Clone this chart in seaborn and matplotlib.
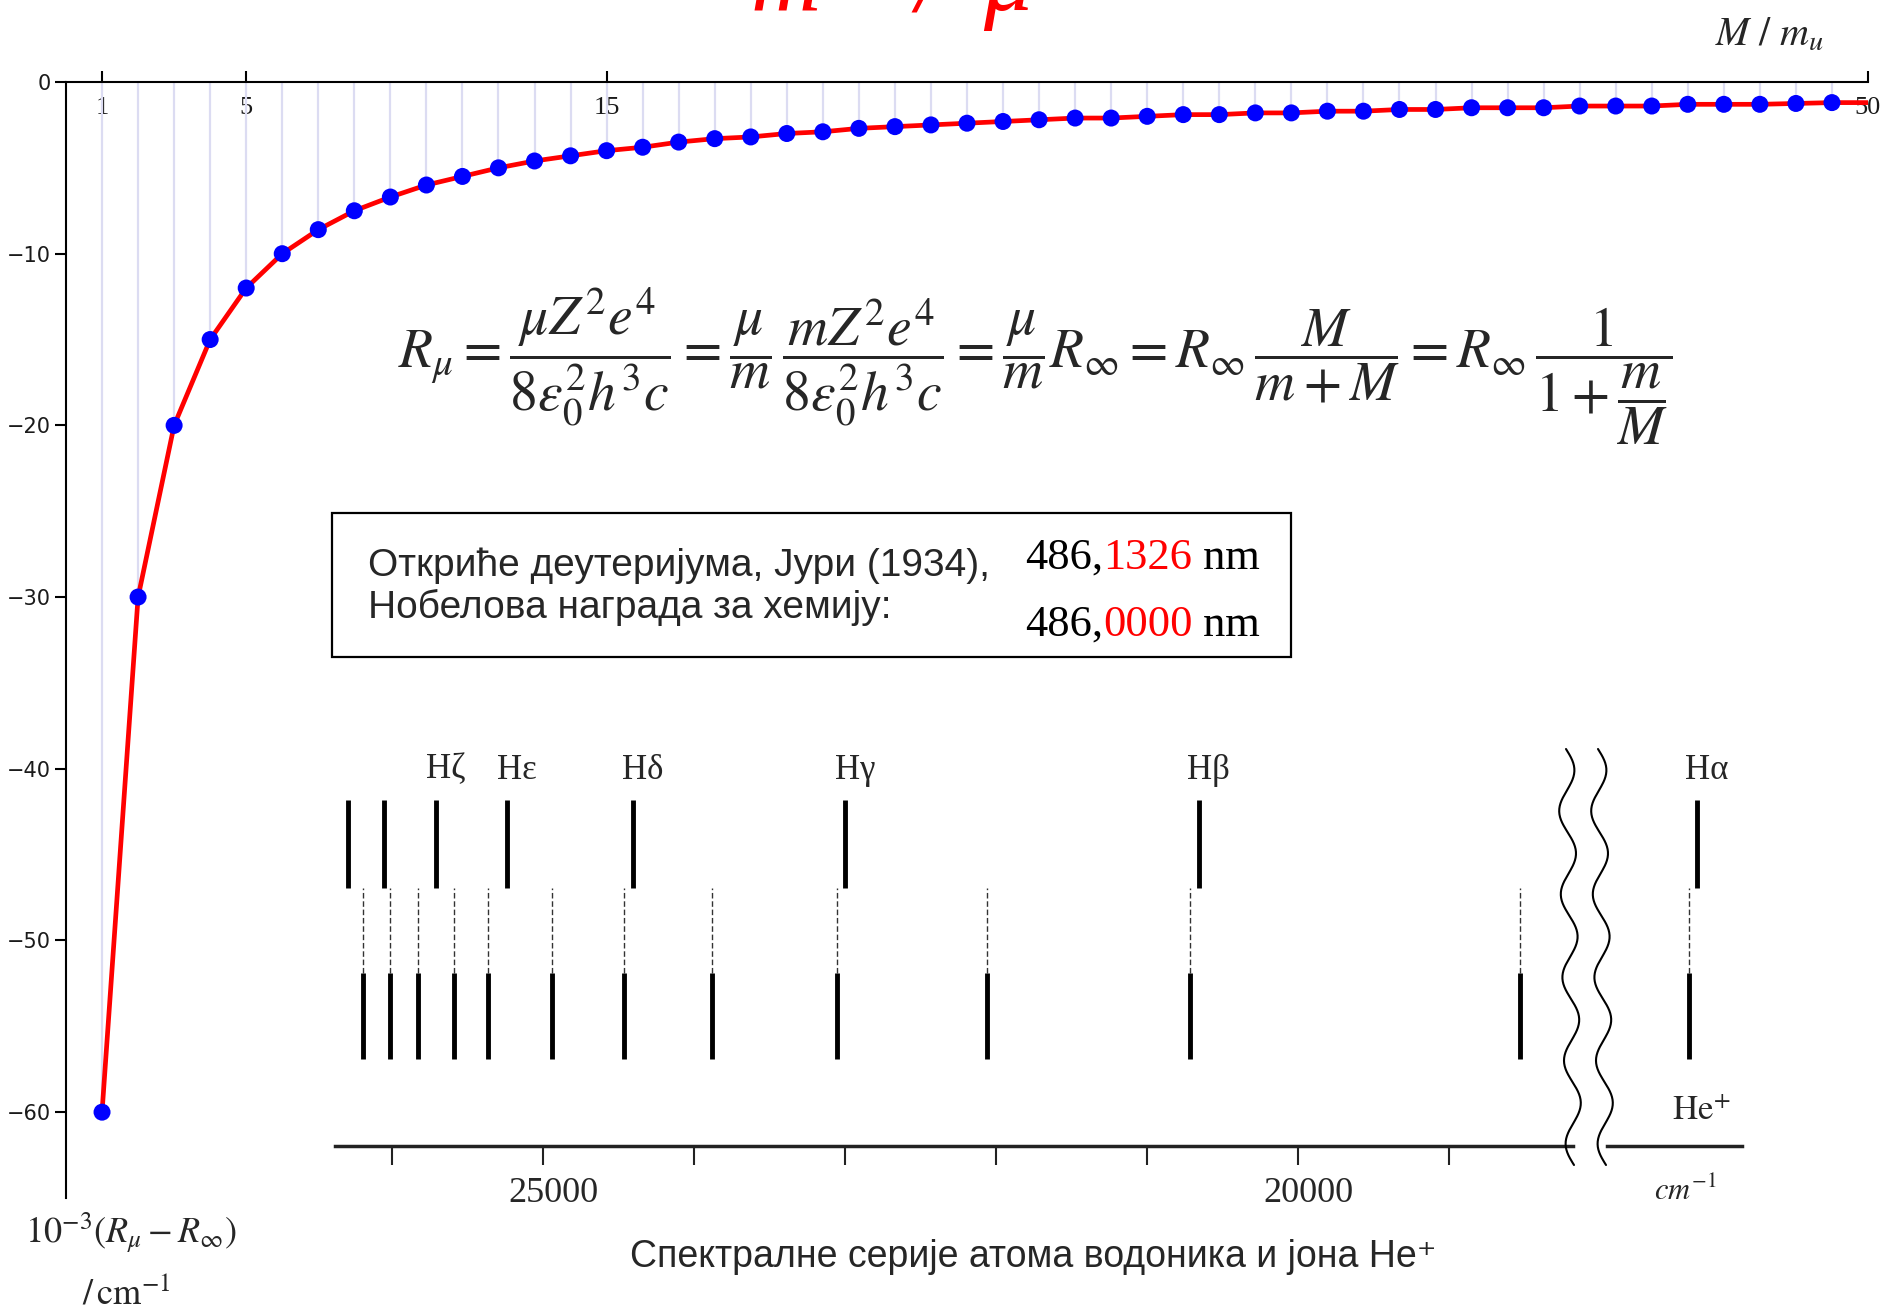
import numpy as np
import matplotlib
matplotlib.use('Agg')
import matplotlib.pyplot as plt
import matplotlib.transforms as mtransforms
from matplotlib.patches import Rectangle
from matplotlib.lines import Line2D
from matplotlib.text import Annotation
import seaborn as sns

# values
mass_ratio = np.arange(1, 50)   # M / m_u, points
shift = [-60.0, -30.0, -20.0, -15.0, -12.0, -10.0, -8.6, -7.5, -6.7, -6.0,
         -5.5, -5.0, -4.6, -4.3, -4.0, -3.8, -3.5, -3.3, -3.2, -3.0,
         -2.9, -2.7, -2.6, -2.5, -2.4, -2.3, -2.2, -2.1, -2.1, -2.0,
         -1.9, -1.9, -1.8, -1.8, -1.7, -1.7, -1.6, -1.6, -1.5, -1.5,
         -1.5, -1.4, -1.4, -1.4, -1.3, -1.3, -1.3, -1.25, -1.2]
# red curve runs on to the end of the axis
curve_mass = list(mass_ratio) + [50]
curve_shift = shift + [-1.2]

# spectrum (cm^-1)
h_lines = [26291, 26053, 25709, 25238, 24404, 23000, 20656]
h_names = ['', '', 'Hζ', 'Hε', 'Hδ', 'Hγ', 'Hβ']
he_lines = [26192, 26013, 25828, 25589, 25364, 24940, 24464, 23881, 23053,
            22060, 20715, 18530]
h_alpha = [15233]
he_alpha = [15286]
wn_ticks = [26000, 25000, 24000, 23000, 22000, 21000, 20000, 19000]
wn_labels = ['', '25000', '', '', '', '', '20000', '']

sns.set_theme(style='white')
plt.rcParams['font.family'] = ['DejaVu Sans']
plt.rcParams['mathtext.fontset'] = 'stix'

W, H = 1887, 1311
fig = plt.figure(figsize=(W / 100, H / 100), dpi=100)
fig.patch.set_facecolor('white')


def fx(px):
    return px / W


def fy(py):
    return 1 - py / H


# main plot
ax = fig.add_axes([fx(66), fy(1198), fx(1868) - fx(66), fy(82) - fy(1198)])
ax.vlines(mass_ratio, shift, 0, color='#dcdcf2', lw=1.6, zorder=1)
sns.lineplot(x=curve_mass, y=curve_shift, color='red', lw=3.4, ax=ax, zorder=2)
sns.scatterplot(x=mass_ratio, y=shift, color='blue', s=150, edgecolor='none',
                ax=ax, zorder=3, clip_on=False)
ax.set_xlim(0, 50)
ax.set_ylim(-65, 0)
ax.set_xlabel('')
ax.set_ylabel('')
for side in ['right', 'bottom']:
    ax.spines[side].set_visible(False)
for side in ['left', 'top']:
    ax.spines[side].set_color('black')
    ax.spines[side].set_linewidth(1.5)

ax.xaxis.tick_top()
ax.set_xticks([1, 5, 15, 50])
ax.tick_params(axis='x', top=True, bottom=False, labeltop=True, labelbottom=False,
               direction='out', length=8, width=1.5, color='black',
               pad=-35, labelsize=19, labelcolor='#1a1a1a')
for lab in ax.get_xticklabels():
    lab.set_fontfamily('Liberation Serif')
ax.set_yticks(range(-60, 1, 10))
ax.tick_params(axis='y', left=True, direction='out', length=8, width=1.5,
               color='black', labelsize=15, labelcolor='#1a1a1a', pad=3)

# red heading (cut at top, as in the slide)
fig.text(fx(750), fy(10), 'm', fontsize=70, style='italic', color='red',
         family='Liberation Serif', va='baseline', ha='left')
fig.text(fx(915), fy(10), '/', fontsize=70, style='italic', color='red',
         family='Liberation Serif', va='baseline', ha='left')
fig.text(fx(983), fy(10), 'μ', fontsize=70, style='italic', color='red',
         family='Liberation Serif', va='baseline', ha='left')

fig.text(fx(1715), fy(46), r'$M\ /\ m_u$', fontsize=29, ha='left', va='baseline')

# formula
eq = (r'$R_\mu = \dfrac{\mu Z^2 e^4}{8\varepsilon_0^2 h^3 c}'
      r' = \dfrac{\mu}{m}\,\dfrac{m Z^2 e^4}{8\varepsilon_0^2 h^3 c}'
      r' = \dfrac{\mu}{m} R_\infty = R_\infty\,\dfrac{M}{m+M}'
      r' = R_\infty\,\dfrac{1}{1+\dfrac{m}{M}}$')
fig.text(fx(1035), fy(366), eq, fontsize=40, ha='center', va='center')

# box
fig.add_artist(Rectangle((fx(332), fy(657)), fx(1291) - fx(332), fy(513) - fy(657),
                         transform=fig.transFigure, facecolor='white',
                         edgecolor='black', lw=1.6, zorder=5))
fig.text(fx(368), fy(576), 'Откриће деутеријума, Јури (1934),', fontsize=28,
         family='Liberation Sans', va='baseline', zorder=6)
fig.text(fx(368), fy(618), 'Нобелова награда за хемију:', fontsize=28,
         family='Liberation Sans', va='baseline', zorder=6)


def colored_line(x, y, parts):
    prev = fig.text(fx(x), fy(y), parts[0][0], color=parts[0][1], fontsize=32,
                    family='Liberation Serif', va='baseline', zorder=6)
    for txt, col in parts[1:]:
        a = Annotation(txt, xy=(1, 0), xycoords=prev, va='bottom', ha='left',
                       color=col, fontsize=32, family='Liberation Serif')
        a.set_zorder(6)
        fig.add_artist(a)
        prev = a


colored_line(1025, 569, [('486,', 'black'), ('1326', 'red'), (' nm', 'black')])
colored_line(1025, 636, [('486,', 'black'), ('0000', 'red'), (' nm', 'black')])

# spectrum
ax_s = fig.add_axes([fx(335), fy(1146), fx(1573) - fx(335), fy(740) - fy(1146)])
ax_b = fig.add_axes([fx(1607), fy(1146), fx(1742) - fx(1607), fy(740) - fy(1146)])
ax_s.set_xlim(26377, 18179)
ax_b.set_xlim(15829, 14935)
for a, hl, hel, names in [(ax_s, h_lines, he_lines, h_names),
                          (ax_b, h_alpha, he_alpha, ['Hα'])]:
    a.set_facecolor('none')
    a.set_ylim(0, 1)
    for side in ['left', 'right', 'top']:
        a.spines[side].set_visible(False)
    a.spines['bottom'].set_color('#222222')
    a.spines['bottom'].set_linewidth(2.5)
    a.vlines(hl, 0.635, 0.852, color='black', lw=3.5)
    a.vlines(hel, 0.426, 0.635, color='#333333', lw=1.0, linestyles=(0, (4, 2)))
    a.vlines(hel, 0.214, 0.426, color='black', lw=3.5)
    for xv, name in zip(hl, names):
        if name:
            a.annotate(name, (xv, 0.926), xytext=(7, 0), textcoords='offset points',
                       ha='center', va='center', fontsize=25,
                       family='Liberation Serif')
    a.set_yticks([])

ax_s.set_xticks(wn_ticks, wn_labels)
ax_s.tick_params(axis='x', bottom=True, direction='out', length=14, width=1.5,
                 color='#222222', pad=8, labelsize=26)
shift_lab = mtransforms.ScaledTranslation(10 / 100, 0, fig.dpi_scale_trans)
for lab in ax_s.get_xticklabels():
    lab.set_fontfamily('Liberation Serif')
    lab.set_transform(lab.get_transform() + shift_lab)
ax_b.set_xticks([])

# break marks
t = np.linspace(0, 1, 300)
for x0 in [1566, 1598]:
    xs = x0 + 8 * np.sin(2 * np.pi * 5 * t) + 8 * t
    ys = 749 + t * (1165 - 749)
    fig.add_artist(Line2D(fx(xs), fy(ys), transform=fig.transFigure,
                          color='black', lw=1.5))

fig.text(fx(1672), fy(1120), r'$\mathrm{He}^{+}$', fontsize=25, va='baseline')
fig.text(fx(1685), fy(1200), r'$cm^{-1}$', fontsize=22, ha='center', va='baseline')

fig.text(fx(1033), fy(1267), 'Спектралне серије атома водоника и јона He⁺',
         ha='center', va='baseline', fontsize=27,
         family=['Liberation Sans', 'DejaVu Sans'])

# y label
fig.text(fx(131), fy(1243), r'$10^{-3}(R_\mu - R_\infty)$', ha='center',
         va='baseline', fontsize=26)
fig.text(fx(126), fy(1303), r'$/\,\mathrm{cm}^{-1}$', ha='center',
         va='baseline', fontsize=26)

fig.savefig('out.png', dpi=100)
